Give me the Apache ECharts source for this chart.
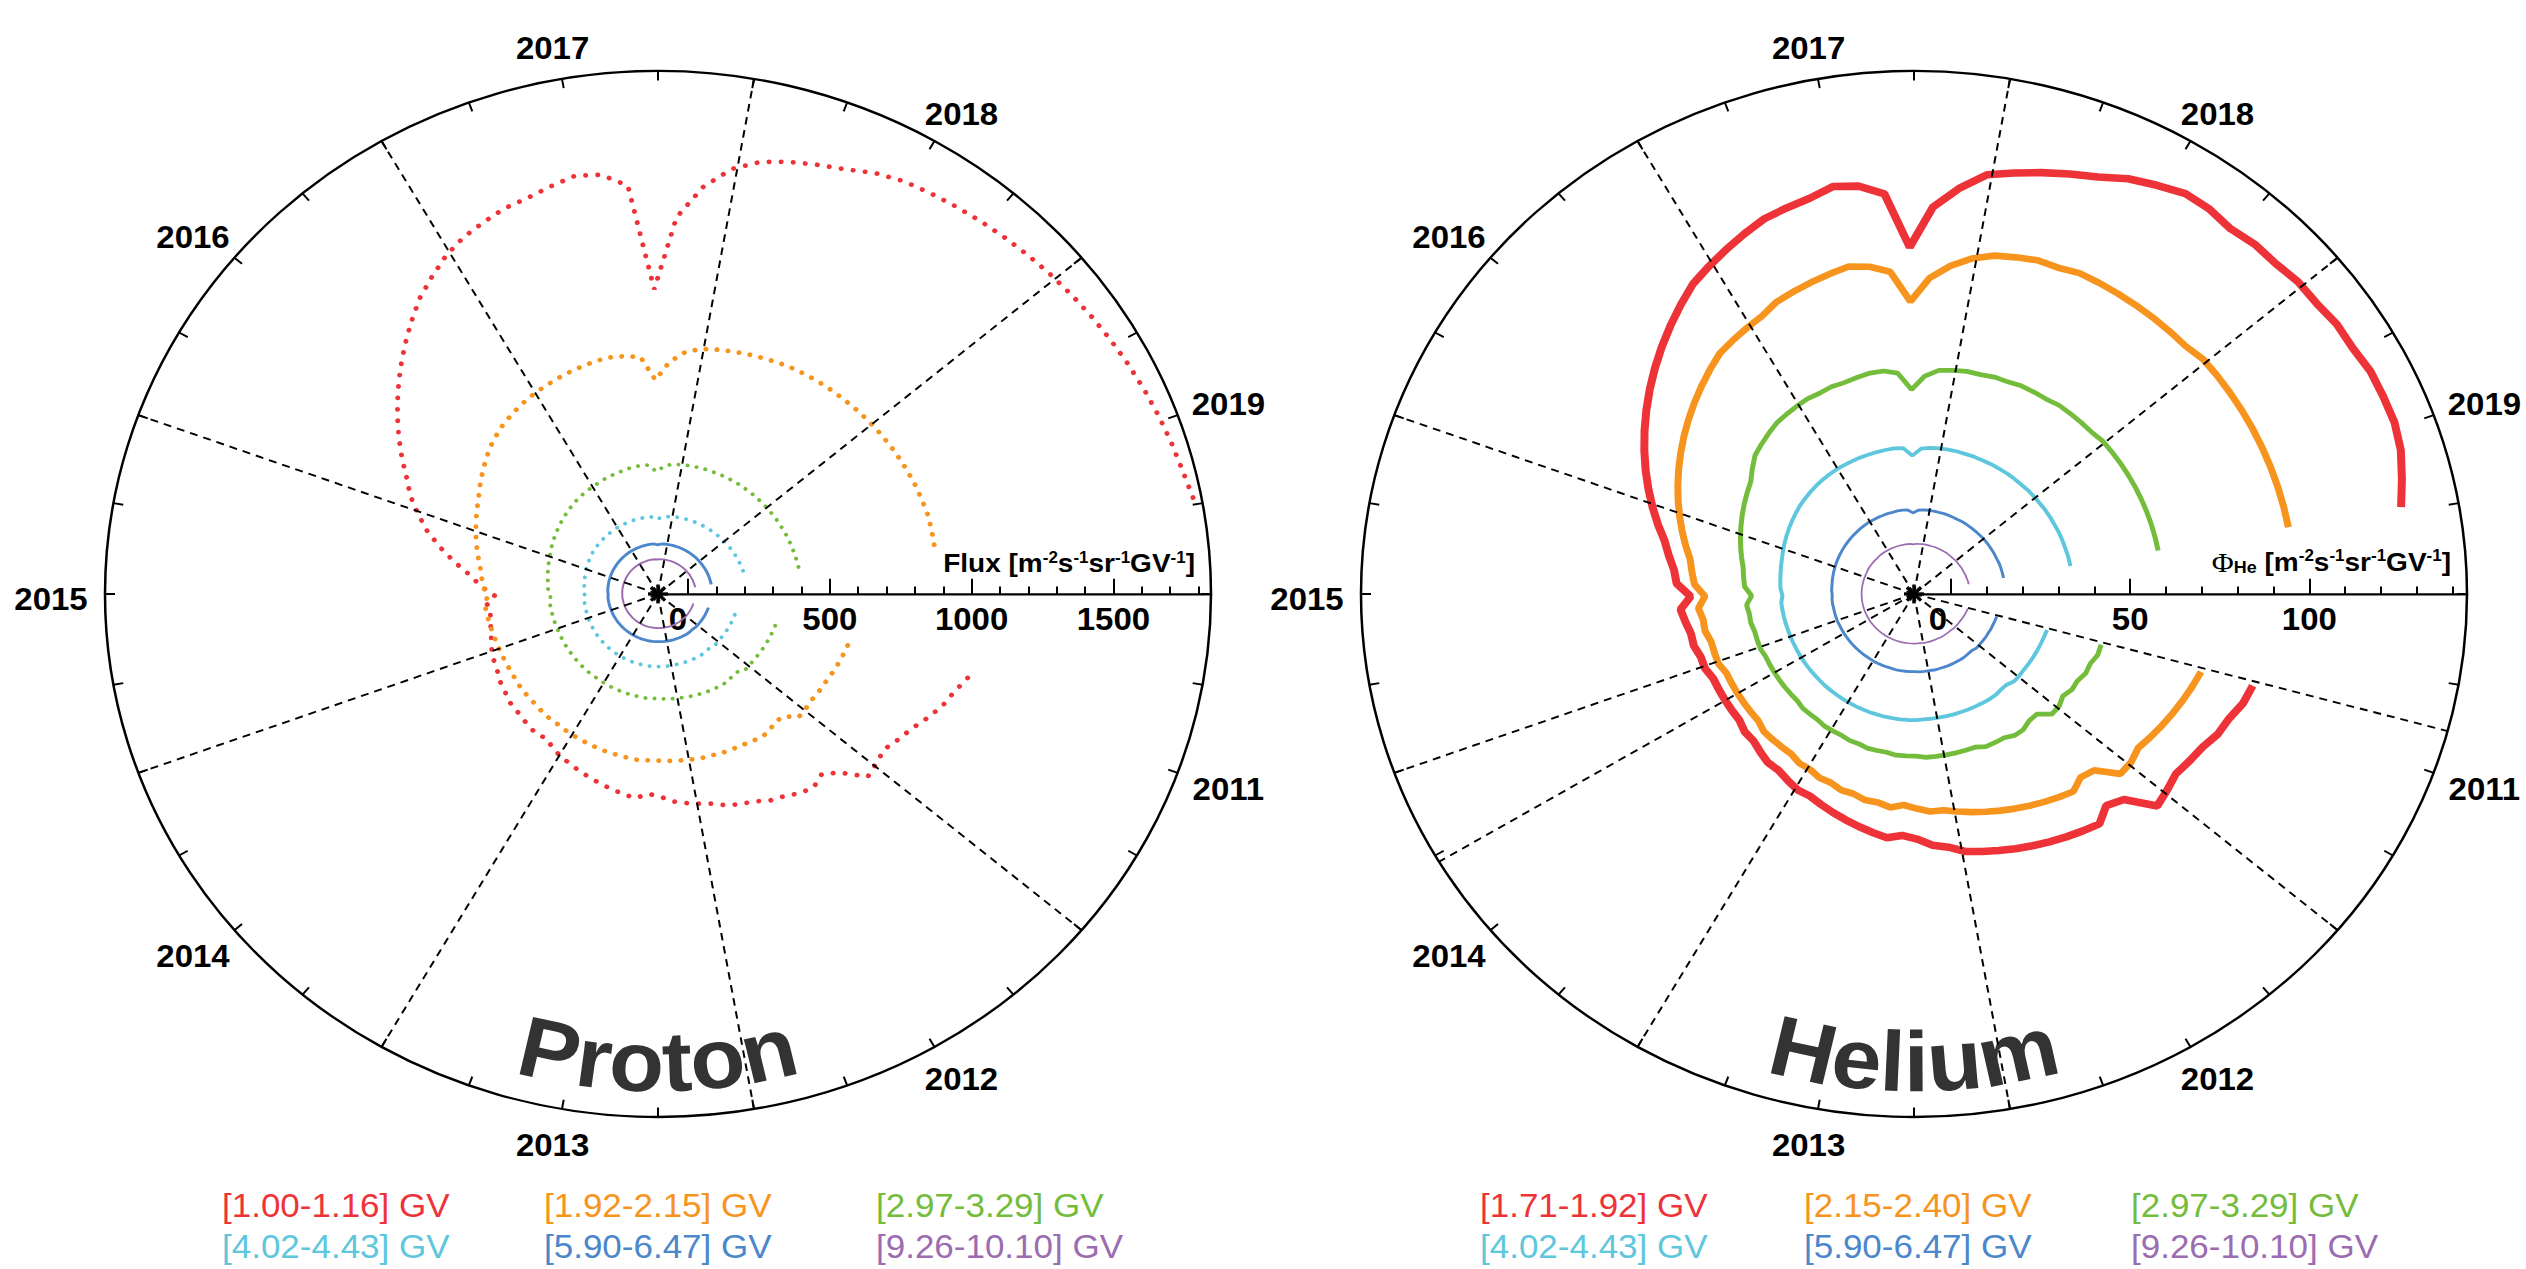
<!DOCTYPE html>
<html>
<head>
<meta charset="utf-8">
<title>Daily proton and helium fluxes 2011–2019</title>
<script src="https://cdn.jsdelivr.net/npm/echarts@6/dist/echarts.min.js"></script>
<style>
  html, body { margin: 0; padding: 0; background: #fff; overflow: hidden; }
  #wrap { width: 2526px; height: 1269px; overflow: hidden; position: relative; }
  /* the two polar panels are drawn slightly flattened vertically */
  #chart { width: 2526px; height: 1342px; transform: scaleY(0.9458); transform-origin: 0 0; }
</style>
</head>
<body>
<div id="wrap"><div id="chart"></div></div>
<script>
// ---------------------------------------------------------------------------
// Time axis: one turn of the spiral = 2011.0 … 2020.0, clockwise from the right
// ---------------------------------------------------------------------------
const yearLabels = [2011, 2012, 2013, 2014, 2015, 2016, 2017, 2018, 2019];
const yearBoundaries = [2012, 2013, 2014, 2015, 2016, 2017, 2018, 2019];
const heliumExtraLines = [2011.38, 2014.73];
const firstSample = 2011.4;        // first monthly sample (decimal year)
const sampleStep = 1 / 12;         // monthly samples

// rigidity bins
const protonBins = ['[1.00-1.16] GV', '[1.92-2.15] GV', '[2.97-3.29] GV',
                    '[4.02-4.43] GV', '[5.90-6.47] GV', '[9.26-10.10] GV'];
const heliumBins = ['[1.71-1.92] GV', '[2.15-2.40] GV', '[2.97-3.29] GV',
                    '[4.02-4.43] GV', '[5.90-6.47] GV', '[9.26-10.10] GV'];
const binColors = ['#EE3338', '#F7941E', '#74BC3B', '#5EC6DD', '#4B87CA', '#9B6CB0'];

// radial tick labels
const protonRadialTicks = [0, 500, 1000, 1500];
const heliumRadialTicks = [0, 50, 100];

// ---------------------------------------------------------------------------
// Proton flux [m^-2 s^-1 sr^-1 GV^-1], monthly
// ---------------------------------------------------------------------------
const protonR1 = [
  1030, 1000, 980, 950, 920, 900, 880, 890,
  900, 820, 780, 800, 790, 770, 760, 740, 730, 720, 700, 690,
  680, 670, 650, 640, 660, 650, 640, 630, 620, 610, 600, 590,
  580, 560, 570, 565, 560, 555, 555, 545, 540, 530, 525, 520,
  510, 500, 495, 490, 500, 470, 520, 560, 620, 680, 740, 790,
  840, 880, 930, 980, 1030, 1080, 1130, 1180, 1230, 1280, 1320, 1360,
  1390, 1410, 1430, 1440, 1460, 1480, 1470, 1420, 1030, 1300, 1420, 1500,
  1545, 1570, 1590, 1610, 1640, 1660, 1670, 1680, 1690, 1700, 1710, 1720,
  1730, 1740, 1750, 1760, 1770, 1780, 1790, 1800, 1815
];
const protonR2 = [
  590, 585, 580, 575, 570, 568, 565, 568,
  570, 530, 525, 540, 540, 535, 530, 530, 528, 525, 525, 522,
  520, 518, 516, 515, 518, 515, 512, 510, 508, 505, 503, 500,
  498, 495, 496, 494, 492, 490, 492, 490, 488, 488, 489, 490,
  492, 495, 498, 502, 506, 495, 512, 520, 530, 545, 560, 575,
  590, 605, 620, 640, 660, 680, 700, 715, 730, 740, 750, 758,
  765, 772, 778, 784, 790, 792, 788, 780, 692, 760, 800, 820,
  828, 835, 842, 848, 855, 860, 864, 867, 870, 872, 875, 878,
  880, 882, 884, 886, 888, 889, 890, 888, 885
];
const protonR3 = [
  324, 322, 320, 318, 316, 314, 312, 312,
  312, 298, 297, 302, 302, 300, 298, 297, 295, 293, 291, 289,
  288, 287, 285, 284, 285, 283, 282, 281, 280, 279, 278, 277,
  276, 275, 275, 274, 274, 273, 273, 272, 272, 272, 272, 272,
  273, 274, 275, 276, 278, 272, 282, 285, 288, 292, 296, 300,
  305, 310, 315, 320, 325, 330, 335, 340, 345, 349, 352, 355,
  358, 362, 365, 368, 372, 375, 377, 376, 350, 372, 380, 383,
  385, 386, 388, 389, 390, 391, 392, 393, 393, 394, 394, 395,
  395, 396, 396, 397, 397, 398, 398, 399, 400
];
const protonR4 = [
  176, 175, 174, 173, 172, 171, 170, 170,
  171, 166, 166, 168, 168, 167, 167, 166, 166, 165, 165, 165,
  165, 165, 165, 165, 165, 164, 164, 163, 163, 162, 162, 161,
  161, 160, 160, 160, 159, 159, 158, 158, 157, 157, 156, 156,
  156, 155, 155, 155, 155, 153, 155, 156, 157, 159, 161, 163,
  165, 167, 169, 171, 173, 174, 175, 176, 177, 178, 179, 180,
  180, 181, 181, 182, 182, 183, 183, 182, 172, 181, 184, 186,
  188, 189, 190, 191, 192, 193, 194, 195, 196, 197, 198, 199,
  200, 201, 202, 203, 204, 205, 206, 207, 208
];
const protonR5 = [
  79, 78.5, 78, 77.5, 77, 76.5, 76, 76,
  76, 74, 74, 75, 75, 74.5, 74, 74, 73.5, 73.5, 73, 73,
  72.5, 72.5, 72, 72, 72, 72, 71.5, 71.5, 71.5, 71, 71, 71,
  71, 70.5, 70.5, 70.5, 70.5, 70, 70, 70, 70, 70, 70, 70,
  70, 70.5, 70.5, 71, 71, 70, 71.5, 72, 72.5, 73, 73.5, 74,
  74.5, 75, 75.5, 76, 76.5, 77, 77.5, 78, 78.5, 79, 79.5, 80,
  80, 80.5, 80.5, 81, 81, 81.5, 81.5, 81, 77, 80.5, 81.5, 82,
  82, 82.5, 82.5, 83, 83, 83, 83.5, 83.5, 83.5, 84, 84, 84,
  84, 84.5, 84.5, 84.5, 85, 85, 85, 85, 85.5
];
const protonR6 = [
  24, 24, 23.5, 23.5, 23, 23, 23, 23,
  23, 22, 22, 22.5, 22.5, 22, 22, 22, 22, 22, 21.5, 21.5,
  21.5, 21.5, 21.5, 21, 21, 21, 21, 21, 21, 21, 20.5, 20.5,
  20.5, 20.5, 20.5, 20.5, 20.5, 20, 20, 20, 20, 20, 20, 20,
  20, 20, 20, 20.5, 20.5, 20, 20.5, 20.5, 21, 21, 21, 21.5,
  21.5, 21.5, 22, 22, 22, 22.5, 22.5, 22.5, 23, 23, 23, 23.5,
  23.5, 23.5, 23.5, 24, 24, 24, 24, 24, 22.5, 24, 24, 24.5,
  24.5, 24.5, 25, 25, 25, 25, 25.5, 25.5, 25.5, 26, 26, 26,
  26, 26.5, 26.5, 26.5, 27, 27, 27, 27.5, 28
];

// ---------------------------------------------------------------------------
// Helium flux Φ_He [m^-2 s^-1 sr^-1 GV^-1], monthly
// ---------------------------------------------------------------------------
const heliumR1 = [
  88, 87, 85, 84, 82, 81, 80, 81,
  82, 74, 72, 75, 74, 73, 72, 71, 70, 69, 68, 67,
  65, 64, 62, 61, 62, 61, 60, 59, 58, 57, 56, 56,
  55, 54, 54, 53, 52, 52, 51, 51, 51, 51, 51, 52,
  52, 53, 53, 54, 55, 52, 56, 57, 59, 61, 64, 67,
  70, 73, 76, 79, 82, 85, 88, 91, 94, 97, 100, 102,
  104, 106, 108, 109, 110, 112, 111, 108, 92, 104, 110, 115,
  117, 119, 121, 123, 126, 128, 130, 130, 129, 130, 130, 131,
  131, 132, 132, 133, 133, 133, 132, 130, 128
];
const heliumR2 = [
  73, 72, 71, 70, 69, 68, 67, 68,
  68, 62, 61, 63, 62, 61, 60, 59, 58, 57, 56, 55,
  54, 54, 53, 52, 53, 52, 52, 51, 51, 50, 50, 49,
  49, 48, 48, 48, 48, 47, 47, 47, 47, 47, 47, 48,
  48, 48, 49, 49, 50, 48, 51, 52, 53, 55, 57, 59,
  61, 63, 65, 67, 69, 71, 73, 75, 77, 79, 80, 81,
  82, 84, 85, 86, 87, 88, 87, 85, 76, 83, 87, 90,
  92, 93, 94, 94, 95, 95, 95, 95, 95, 95, 95, 96,
  96, 96, 96, 96, 96, 96, 96, 96, 96
];
const heliumR3 = [
  44, 44, 43, 43, 42, 42, 41, 42,
  42, 39, 39, 40, 40, 39, 39, 39, 38, 38, 38, 38,
  38, 38, 37.5, 37.5, 37.5, 37, 37, 37, 36.5, 36.5, 36, 36,
  36, 35.5, 35.5, 35.5, 35, 35, 35, 35, 35, 35, 35, 35.5,
  35.5, 35.5, 36, 36, 36.5, 35, 37, 37.5, 38, 39, 40, 41,
  42, 43, 44, 45, 46, 48, 50, 51, 52, 53, 53.5, 54,
  54.5, 54.5, 55, 55, 55.5, 56, 56, 55, 50, 54, 56, 56.5,
  57, 57, 57.5, 57.5, 58, 58, 58, 58.5, 58.5, 58.5, 58.5, 59,
  59, 59, 59, 59, 59, 59, 59, 59, 59
];
const heliumR4 = [
  28.3, 28.1, 28.0, 27.9, 27.8, 27.7, 27.6, 27.7,
  27.7, 26.9, 26.9, 27.2, 27.2, 27.1, 27.0, 27.0, 26.9, 26.9, 26.8, 26.8,
  26.8, 26.8, 26.9, 26.9, 26.9, 26.8, 26.8, 26.7, 26.7, 26.6, 26.6, 26.5,
  26.5, 26.4, 26.4, 26.4, 26.3, 26.3, 26.3, 26.3, 26.3, 26.3, 26.3, 26.4,
  26.4, 26.5, 26.6, 26.7, 26.8, 26.4, 27.0, 27.2, 27.4, 27.7, 28.0, 28.4,
  28.8, 29.2, 29.6, 30.0, 30.4, 30.8, 31.1, 31.4, 31.7, 31.9, 32.1, 32.3,
  32.4, 32.5, 32.6, 32.7, 32.8, 32.9, 33.0, 32.8, 30.5, 32.6, 33.0, 33.2,
  33.3, 33.4, 33.4, 33.5, 33.5, 33.6, 33.6, 33.7, 33.7, 33.7, 33.8, 33.8,
  33.8, 33.9, 33.9, 33.9, 34.0, 34.0, 34.0, 34.1, 34.1
];
const heliumR5 = [
  13.7, 13.6, 13.5, 13.5, 13.4, 13.4, 13.3, 13.3,
  13.3, 12.9, 12.9, 13.0, 13.0, 12.9, 12.9, 12.9, 12.8, 12.8, 12.8, 12.7,
  12.7, 12.7, 12.6, 12.6, 12.6, 12.6, 12.6, 12.5, 12.5, 12.5, 12.5, 12.5,
  12.4, 12.4, 12.4, 12.4, 12.4, 12.4, 12.4, 12.4, 12.4, 12.4, 12.4, 12.5,
  12.5, 12.5, 12.5, 12.6, 12.6, 12.5, 12.7, 12.7, 12.8, 12.9, 13.0, 13.1,
  13.2, 13.3, 13.4, 13.5, 13.6, 13.7, 13.8, 13.9, 14.0, 14.1, 14.2, 14.3,
  14.3, 14.4, 14.4, 14.5, 14.5, 14.6, 14.6, 14.5, 13.6, 14.4, 14.6, 14.7,
  14.7, 14.7, 14.8, 14.8, 14.8, 14.8, 14.9, 14.9, 14.9, 14.9, 14.9, 15.0,
  15.0, 15.0, 15.0, 15.0, 15.0, 15.1, 15.1, 15.1, 15.1
];
const heliumR6 = [
  5.3, 5.2, 5.1, 5.0, 4.9, 4.8, 4.8, 4.7,
  4.7, 4.5, 4.5, 4.5, 4.5, 4.5, 4.4, 4.4, 4.4, 4.4, 4.4, 4.4,
  4.3, 4.3, 4.3, 4.3, 4.3, 4.3, 4.3, 4.3, 4.3, 4.3, 4.3, 4.3,
  4.3, 4.3, 4.3, 4.3, 4.3, 4.3, 4.3, 4.3, 4.3, 4.3, 4.3, 4.3,
  4.3, 4.3, 4.3, 4.3, 4.3, 4.3, 4.3, 4.3, 4.3, 4.3, 4.3, 4.3,
  4.3, 4.3, 4.4, 4.4, 4.4, 4.4, 4.4, 4.4, 4.5, 4.5, 4.5, 4.5,
  4.5, 4.5, 4.5, 4.5, 4.5, 4.5, 4.5, 4.5, 4.3, 4.5, 4.5, 4.6,
  4.6, 4.6, 4.6, 4.7, 4.7, 4.7, 4.7, 4.8, 4.8, 4.8, 4.8, 4.9,
  4.9, 4.9, 5.0, 5.0, 5.0, 5.1, 5.1, 5.2, 5.2
];

// ---------------------------------------------------------------------------
// Layout of the two panels (chart pixel space, before the vertical flattening)
// ---------------------------------------------------------------------------
const CY = 628;          // centre height of both panels
const R_OUT = 553;       // outer circle radius
const FONT = '"Liberation Sans", Arial, Helvetica, sans-serif';

const panels = [
  {
    title: 'Proton', cx: 658, innerR: 30, rMax: 1844, major: 500, minor: 100,
    ticks: protonRadialTicks, zeroShift: 20, bins: protonBins, extraLines: [],
    values: [protonR1, protonR2, protonR3, protonR4, protonR5, protonR6],
    widths: [5, 5, 4, 4, 3, 2], dotGap: [7, 6, 5, 5, 0, 0],
    legendX: [222, 544, 876],
    axisTitle: 'Flux [m{s|-2}s{s|-1}sr{s|-1}GV{s|-1}]'
  },
  {
    title: 'Helium', cx: 1914, innerR: 37, rMax: 144, major: 50, minor: 10,
    ticks: heliumRadialTicks, zeroShift: 26, bins: heliumBins, extraLines: heliumExtraLines,
    values: [heliumR1, heliumR2, heliumR3, heliumR4, heliumR5, heliumR6],
    widths: [8, 7, 5, 4, 3, 1.8], dotGap: [0, 0, 0, 0, 0, 0],
    legendX: [1480, 1804, 2131],
    axisTitle: '{phi|\u03A6}{sub|He} [m{s|-2}s{s|-1}sr{s|-1}GV{s|-1}]'
  }
];

const polar = [], angleAxis = [], radiusAxis = [], series = [], graphic = [];

function samples(values) {
  return values.map((v, i) => [v, firstSample + i * sampleStep]);
}

const measureCtx = document.createElement('canvas').getContext('2d');

panels.forEach((p, k) => {
  const base = k * 3;
  // frame: circle with 10° ticks, radial base line, year boundaries
  polar.push({ center: [p.cx, CY], radius: [0, R_OUT] });
  angleAxis.push({
    polarIndex: base, type: 'value', min: 2011, max: 2020, interval: 0.25,
    startAngle: 0, clockwise: true,
    axisLine: { lineStyle: { color: '#000', width: 2.5 } },
    axisTick: { inside: true, length: 10, lineStyle: { color: '#000', width: 2 } },
    axisLabel: { show: false },
    splitLine: { show: false }
  });
  radiusAxis.push({
    polarIndex: base, type: 'value', min: 0, max: 1,
    axisLine: { show: true, lineStyle: { color: '#000', width: 2.5 } },
    axisTick: { show: false }, axisLabel: { show: false }, splitLine: { show: false }
  });

  // minor radial ticks
  polar.push({ center: [p.cx, CY], radius: [p.innerR, R_OUT] });
  angleAxis.push({ polarIndex: base + 1, type: 'value', min: 2011, max: 2020, startAngle: 0, show: false });
  radiusAxis.push({
    polarIndex: base + 1, type: 'value', min: 0, max: p.rMax, interval: p.minor,
    axisLine: { show: false }, axisLabel: { show: false }, splitLine: { show: false },
    axisTick: { show: true, length: 8, lineStyle: { color: '#000', width: 2 } }
  });

  // data + major radial ticks and labels
  polar.push({ center: [p.cx, CY], radius: [p.innerR, R_OUT] });
  angleAxis.push({ polarIndex: base + 2, type: 'value', min: 2011, max: 2020, startAngle: 0, clockwise: true, show: false });
  const labelFont = { color: '#000', fontSize: 33, fontWeight: 'bold', fontFamily: FONT };
  radiusAxis.push({
    polarIndex: base + 2, type: 'value', min: 0, max: p.rMax, interval: p.major,
    axisLine: { show: false }, splitLine: { show: false },
    axisTick: { show: true, length: 16, lineStyle: { color: '#000', width: 2 } },
    axisLabel: Object.assign({
      margin: -10, verticalAlign: 'top',
      formatter: v => v === 0 ? '{z|0}' : (p.ticks.indexOf(v) >= 0 ? String(v) : ''),
      rich: { z: Object.assign({ padding: [0, p.zeroShift, 0, 0] }, labelFont) }
    }, labelFont)
  });

  // flux spirals
  p.values.forEach((vals, j) => {
    const w = p.widths[j];
    series.push({
      type: 'line', coordinateSystem: 'polar', polarIndex: base + 2,
      name: p.bins[j], data: samples(vals), showSymbol: false, symbol: 'none',
      silent: true, animation: false, z: 3,
      lineStyle: {
        color: binColors[j], width: w, join: 'bevel',
        cap: p.dotGap[j] ? 'round' : 'butt',
        type: p.dotGap[j] ? [0.1, p.dotGap[j] + w] : 'solid'
      }
    });
  });

  // dashed year boundaries (and extra markers)
  p.lineSeries = series.length;
  yearBoundaries.concat(p.extraLines).forEach(yr => {
    series.push({
      type: 'line', coordinateSystem: 'polar', polarIndex: base,
      data: [[0, yr], [1, yr]], symbol: 'none', silent: true, animation: false, z: 5,
      lineStyle: { color: '#000', width: 2, type: [8, 6] }
    });
  });

  // centre marker
  [0, 45, 90, 135].forEach(a => {
    const r = 10, t = a * Math.PI / 180;
    graphic.push({
      type: 'line', z: 10, silent: true,
      shape: { x1: p.cx - r * Math.cos(t), y1: CY - r * Math.sin(t), x2: p.cx + r * Math.cos(t), y2: CY + r * Math.sin(t) },
      style: { stroke: '#000', lineWidth: 3.5 }
    });
  });

  // radial axis title
  graphic.push({
    type: 'text', z: 10, silent: true, x: p.cx + R_OUT - 16, y: CY - 19,
    style: {
      text: p.axisTitle, align: 'right', verticalAlign: 'bottom', fill: '#000',
      font: 'bold 28px ' + FONT,
      rich: {
        s: { fontSize: 17, fontWeight: 'bold', fontFamily: FONT, verticalAlign: 'top', fill: '#000' },
        sub: { fontSize: 18, fontWeight: 'bold', fontFamily: FONT, verticalAlign: 'bottom', fill: '#000' },
        phi: { fontSize: 30, fontFamily: '"Liberation Serif", "DejaVu Serif", serif', fill: '#000' }
      }
    }
  });

  // curved panel title along the bottom of the circle
  const titleFont = 'bold 90px ' + FONT;
  measureCtx.font = titleFont;
  const letters = p.title.split('');
  const adv = letters.map(c => measureCtx.measureText(c).width);
  const total = adv.reduce((a, b) => a + b, 0);
  const Rb = 540;
  let run = -total / 2;
  letters.forEach((c, i) => {
    const a = (run + adv[i] / 2) / 522;
    run += adv[i];
    graphic.push({
      type: 'text', z: 1, silent: true,
      x: p.cx + Rb * Math.sin(a), y: CY + Rb * Math.cos(a), rotation: a,
      style: { text: c, font: titleFont, fill: '#333', align: 'center', verticalAlign: 'bottom' }
    });
  });

  // legend: three columns, two rows
  p.bins.forEach((label, j) => {
    graphic.push({
      type: 'text', z: 10, silent: true,
      x: p.legendX[j % 3], y: j < 3 ? 1274 : 1318,
      style: { text: label, font: '35px ' + FONT, fill: binColors[j], align: 'left', verticalAlign: 'middle' }
    });
  });
});

const chart = echarts.init(document.getElementById('chart'), null, { renderer: 'svg' });
chart.setOption({
  backgroundColor: '#fff',
  animation: false,
  polar, angleAxis, radiusAxis, series, graphic
});

// year labels around each circle, placed at mid-year on the time scale
const yearGraphics = [];
panels.forEach(p => {
  yearLabels.forEach(y => {
    const edge = chart.convertToPixel({ seriesIndex: p.lineSeries }, [1, y + 0.5]);
    const dx = (edge[0] - p.cx) / R_OUT, dy = (edge[1] - CY) / R_OUT;
    const R = 568;
    const x = p.cx + dx * R + dx * 39;
    const yy = CY + dy * R + dy * 18 + (dy > 0 ? 6 : 0);
    yearGraphics.push({
      type: 'text', z: 10, silent: true, x: x, y: yy,
      style: { text: String(y), font: 'bold 33px ' + FONT, fill: '#000', align: 'center', verticalAlign: 'middle' }
    });
  });
});
chart.setOption({ graphic: graphic.concat(yearGraphics) });
</script>
</body>
</html>
